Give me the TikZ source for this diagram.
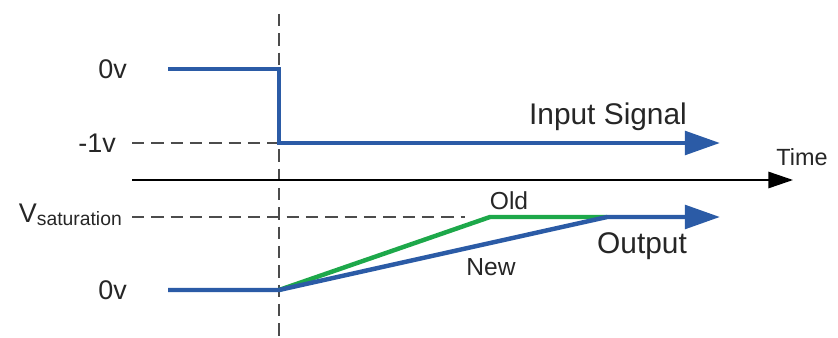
\documentclass[tikz,border=0pt]{standalone}
\usepackage{fontspec}
\setmainfont{Liberation Sans}
\usetikzlibrary{arrows.meta}
\definecolor{SigBlue}{HTML}{2B5BA6}
\definecolor{SigGreen}{HTML}{1DA84A}
\definecolor{SigText}{HTML}{262626}
\tikzset{
  every node/.style = {text=SigText, inner sep=0pt},
  wave/.style = {draw=SigBlue, line width=3.8pt, line join=miter},
  wave old/.style = {wave, draw=SigGreen},
  wave arrow/.style = {wave, -{Triangle[length=30pt,width=20pt]}},
  time axis/.style = {draw=black, line width=1.3pt, -{Triangle[length=21pt,width=14pt]}},
  guide dashed/.style = {draw=black!70, line width=1.4pt, dash pattern=on 10.5pt off 6pt},
  level label/.style = {font=\fontsize{23}{26}\selectfont, anchor=east},
  big label/.style = {font=\fontsize{25.5}{29}\selectfont, anchor=base},
  small label/.style = {font=\fontsize{21}{24}\selectfont, anchor=base},
}
\begin{document}
\begin{tikzpicture}[x=0.03cm,y=-0.03cm]
  \useasboundingbox (0,0) rectangle (838,338);

  % points of the two waveforms
  \coordinate (inHigh) at (168,69);
  \coordinate (inStep) at (279,69);
  \coordinate (inLow) at (279,143);
  \coordinate (inEnd) at (720,143);
  \coordinate (outZero) at (168,290);
  \coordinate (outStart) at (279,290);
  \coordinate (oldKnee) at (490,217);
  \coordinate (newKnee) at (607,217);
  \coordinate (outEnd) at (720,217);

  % guides
  \coordinate (trigTop) at (279,14);
  \coordinate (trigBot) at (279,338);
  \coordinate (lowGuide) at (132,143);
  \coordinate (satGuide) at (132,217);
  \coordinate (satGuideEnd) at (465,217);
  \coordinate (axisStart) at (132,180);
  \coordinate (axisEnd) at (793,180);

  \draw[guide dashed] (trigTop) -- (trigBot);
  \draw[guide dashed] (lowGuide) -- (inLow);
  \draw[guide dashed] (satGuide) -- (satGuideEnd);
  \draw[time axis] (axisStart) -- (axisEnd);

  \draw[wave old] (outStart) -- (oldKnee) -- (newKnee);
  \draw[wave arrow] (outZero) -- (outStart) -- (newKnee) -- (outEnd);
  \draw[wave arrow] (inHigh) -- (inStep) -- (inLow) -- (inEnd);

  % labels
  \node[level label] (lblHigh) at (127,69) {0v};
  \node[level label] (lblLow) at (116,143) {-1v};
  \node[level label, anchor=base east] (lblSat) at (122,222)
    {V\raisebox{-3pt}{\fontsize{16.5}{19}\selectfont saturation}};
  \node[level label] (lblZero) at (127,290) {0v};
  \node[big label] (lblInput) at (608,124) {Input Signal};
  \node[big label] (lblOutput) at (642,253) {Output};
  \node[small label] (lblOld) at (509,209) {Old};
  \node[small label] (lblNew) at (491,275) {New};
  \node[font=\fontsize{20}{23}\selectfont] (lblTime) at (802,157) {Time};
\end{tikzpicture}
\end{document}
